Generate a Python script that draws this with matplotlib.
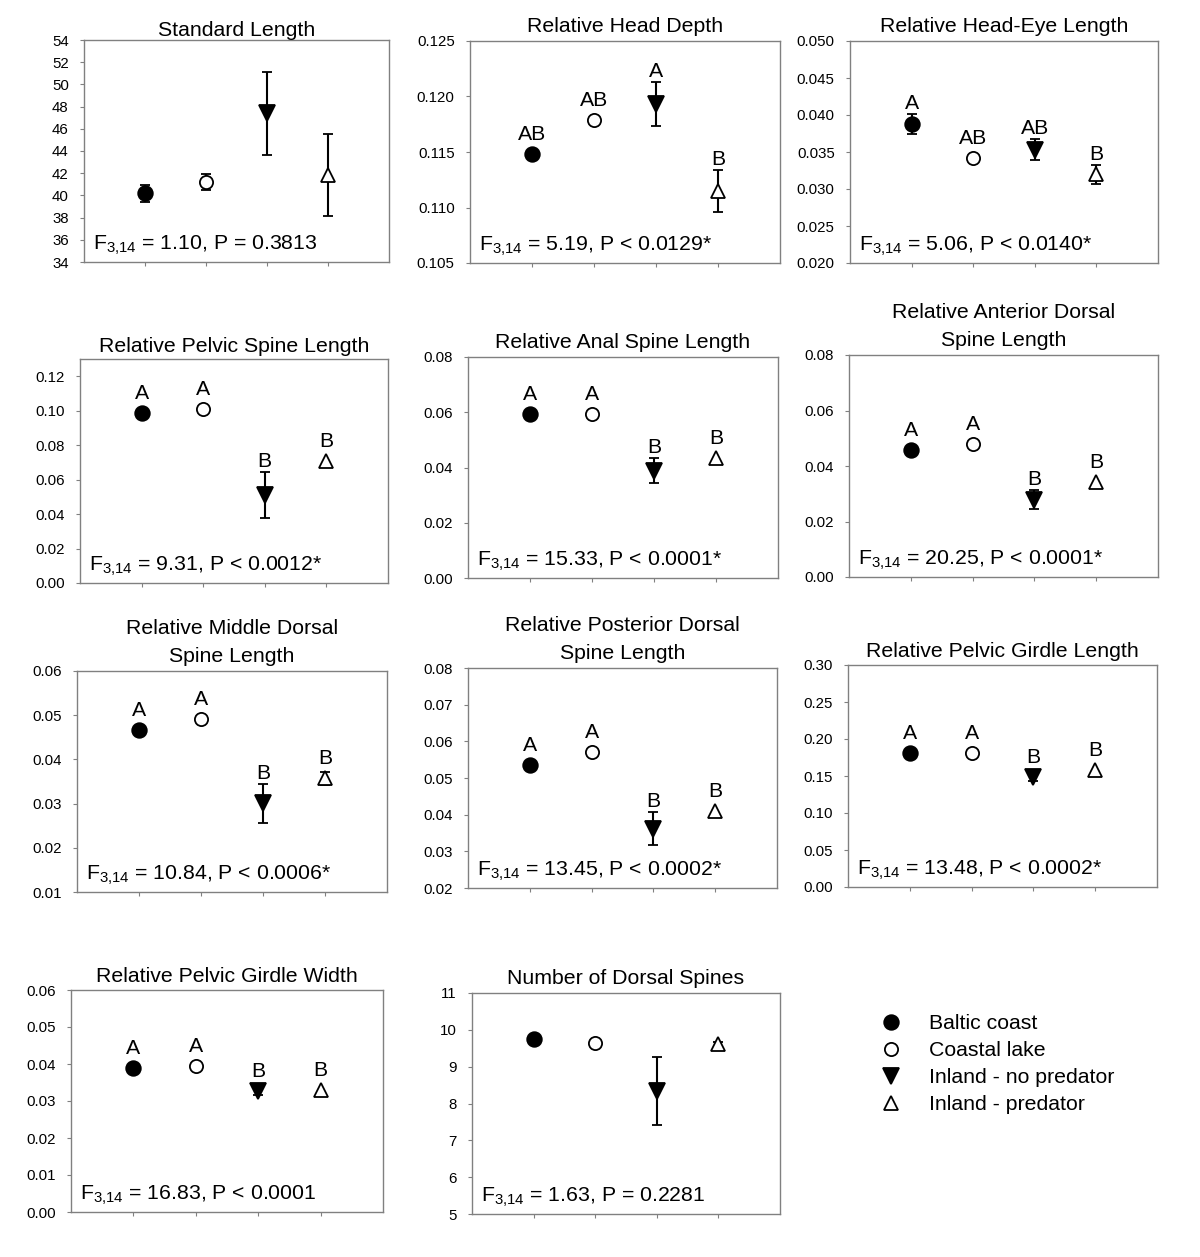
import numpy as np
import matplotlib.pyplot as plt
from matplotlib.lines import Line2D

plt.rcParams['font.family'] = ['Liberation Sans', 'DejaVu Sans']
plt.rcParams['mathtext.fontset'] = 'custom'
plt.rcParams['mathtext.rm'] = 'Liberation Sans'
plt.rcParams['mathtext.it'] = 'Liberation Sans:italic'

# группы
groups = ['Baltic coast', 'Coastal lake', 'Inland - no predator', 'Inland - predator']

# средние и ошибки по признакам
sl_mean = [40.2, 41.2, 47.4, 41.8]
sl_err = [0.75, 0.7, 3.75, 3.7]

hd_mean = [0.1148, 0.1179, 0.1193, 0.1115]
hd_err = [0, 0, 0.0020, 0.0019]

he_mean = [0.0388, 0.0342, 0.0353, 0.0320]
he_err = [0.0014, 0, 0.0014, 0.0013]

ps_mean = [0.0984, 0.1009, 0.0510, 0.0707]
ps_err = [0, 0, 0.0135, 0]

as_mean = [0.0595, 0.0593, 0.0389, 0.0433]
as_err = [0, 0, 0.0044, 0]

ad_mean = [0.0457, 0.0479, 0.0279, 0.0343]
ad_err = [0, 0, 0.0034, 0]

md_mean = [0.0466, 0.0492, 0.0301, 0.0357]
md_err = [0, 0, 0.0044, 0.0014]

pd_mean = [0.0536, 0.0572, 0.0362, 0.0411]
pd_err = [0, 0, 0.0046, 0]

gl_mean = [0.1805, 0.1805, 0.1489, 0.1580]
gl_err = [0, 0, 0.0060, 0]

gw_mean = [0.0388, 0.0394, 0.0327, 0.0331]
gw_err = [0, 0, 0.0010, 0]

ds_mean = [9.75, 9.63, 8.34, 9.62]
ds_err = [0, 0, 0.93, 0.05]

titles = ['Standard Length', 'Relative Head Depth', 'Relative Head-Eye Length',
          'Relative Pelvic Spine Length', 'Relative Anal Spine Length',
          'Relative Anterior Dorsal\nSpine Length',
          'Relative Middle Dorsal\nSpine Length',
          'Relative Posterior Dorsal\nSpine Length',
          'Relative Pelvic Girdle Length', 'Relative Pelvic Girdle Width',
          'Number of Dorsal Spines']

letters = [None,
           ['AB', 'AB', 'A', 'B'],
           ['A', 'AB', 'AB', 'B'],
           ['A', 'A', 'B', 'B'],
           ['A', 'A', 'B', 'B'],
           ['A', 'A', 'B', 'B'],
           ['A', 'A', 'B', 'B'],
           ['A', 'A', 'B', 'B'],
           ['A', 'A', 'B', 'B'],
           ['A', 'A', 'B', 'B'],
           None]

stats = ['= 1.10, P = 0.3813', '= 5.19, P < 0.0129*', '= 5.06, P < 0.0140*',
         '= 9.31, P < 0.0012*', '= 15.33, P < 0.0001*', '= 20.25, P < 0.0001*',
         '= 10.84, P < 0.0006*', '= 13.45, P < 0.0002*', '= 13.48, P < 0.0002*',
         '= 16.83, P < 0.0001', '= 1.63, P = 0.2281']

# (ymin, ymax, шаг, знаков после запятой)
yticks = [(34, 54, 2, 0), (0.105, 0.125, 0.005, 3), (0.020, 0.050, 0.005, 3),
          (0.00, 0.12, 0.02, 2), (0.00, 0.08, 0.02, 2), (0.00, 0.08, 0.02, 2),
          (0.01, 0.06, 0.01, 2), (0.02, 0.08, 0.01, 2), (0.00, 0.30, 0.05, 2),
          (0.00, 0.06, 0.01, 2), (5, 11, 1, 0)]
ylims = [(34, 54), (0.105, 0.125), (0.020, 0.050), (0, 0.13), (0, 0.08), (0, 0.08),
         (0.01, 0.06), (0.02, 0.08), (0, 0.30), (0, 0.06), (5, 11)]

means = [sl_mean, hd_mean, he_mean, ps_mean, as_mean, ad_mean, md_mean, pd_mean,
         gl_mean, gw_mean, ds_mean]
errs = [sl_err, hd_err, he_err, ps_err, as_err, ad_err, md_err, pd_err,
        gl_err, gw_err, ds_err]

# положение осей в пикселях: лево, верх, право, низ
boxes = [(84, 40, 389, 262), (470, 41, 780, 263), (850, 41, 1158, 263),
         (80, 359, 388, 583), (468, 357, 778, 578), (849, 355, 1158, 577),
         (77, 671, 387, 892), (468, 668, 777, 888), (848, 665, 1157, 887),
         (71, 990, 383, 1212), (472, 993, 780, 1214)]
title_pads = [3, 6.5, 6.5, 5, 6.5, 6.5, 6.5, 6.5, 6, 6, 6.5]

styles = [dict(marker='o', mfc='black', ms=10.5),
          dict(marker='o', mfc='white', ms=9.5),
          dict(marker='v', mfc='black', ms=11),
          dict(marker='^', mfc='white', ms=9.5)]

W, H = 1200, 1257
fig = plt.figure(figsize=(W / 100, H / 100), dpi=100)
gray = '#808080'
fs = 15.3

for k in range(len(titles)):
    l, t, r, b = boxes[k]
    ax = fig.add_axes([l / W, 1 - b / H, (r - l) / W, (b - t) / H])
    x = np.arange(1, 5)
    for i in range(4):
        e = errs[k][i]
        ax.errorbar(x[i], means[k][i], yerr=e if e > 0 else None,
                    linestyle='none', color='black', mec='black', mew=1.3,
                    elinewidth=1.5, capsize=3.5, capthick=1.5, **styles[i])
    ax.set_xlim(0, 5)
    ax.set_ylim(*ylims[k])
    y0, y1, st, dec = yticks[k]
    tk = np.arange(y0, y1 + st / 2, st)
    ax.set_yticks(tk)
    ax.set_yticklabels([f'{v:.{dec}f}' for v in tk])
    ax.set_xticks(x)
    ax.set_xticklabels([])
    ax.tick_params(axis='both', direction='out', length=3, width=0.8, color=gray,
                   labelsize=10.8, pad=8)
    for s in ax.spines.values():
        s.set_color(gray)
        s.set_linewidth(1.0)
    ax.set_title(titles[k], fontsize=fs, pad=title_pads[k], linespacing=1.6)
    ax.text(0.028, 0.055, r'$\mathrm{F}_{3{,}14}$ ' + stats[k], transform=ax.transAxes,
            fontsize=fs, va='baseline', ha='left')

    if letters[k] is not None:
        for i in range(4):
            m = means[k][i]
            e = errs[k][i]
            yc = ax.transData.transform((x[i], m))[1]
            yt = ax.transData.transform((x[i], m + e))[1]
            off = max(yt - yc, 9) + 5
            ax.annotate(letters[k][i], (x[i], m), xytext=(0, off * 72 / 100),
                        textcoords='offset points', ha='center', va='baseline',
                        fontsize=fs)

handles = [Line2D([], [], linestyle='none', color='black', mec='black', mew=1.3,
                  **styles[i]) for i in range(4)]
fig.legend(handles, groups, loc='upper left', bbox_to_anchor=(880 / W, 1 - 1014 / H),
           frameon=False, fontsize=fs, handlelength=1.0, handletextpad=1.3,
           labelspacing=0.38, borderaxespad=0, borderpad=0)

fig.savefig('out.png', dpi=100)
